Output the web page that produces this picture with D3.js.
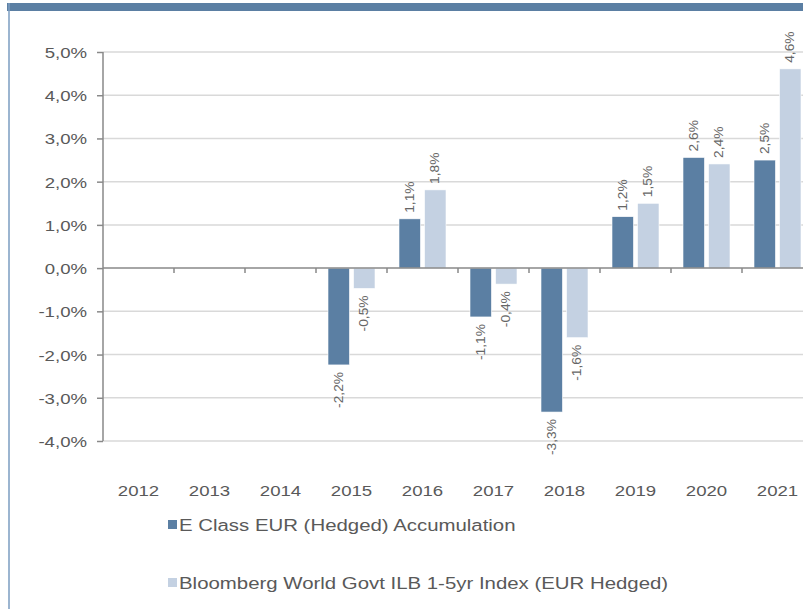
<!DOCTYPE html>
<html>
<head>
<meta charset="utf-8">
<script src="https://cdn.jsdelivr.net/npm/d3@7"></script>
<style>
  body { margin: 0; background: #fff; }
  svg { display: block; font-family: "Liberation Sans", Arial, sans-serif; }
</style>
</head>
<body>
<div id="chart"></div>
<script>
// chart data
const years = ["2012", "2013", "2014", "2015", "2016", "2017", "2018", "2019", "2020", "2021"];
const fundValues = [null, null, null, -2.24, 1.14, -1.13, -3.33, 1.19, 2.56, 2.50];
const indexValues = [null, null, null, -0.47, 1.81, -0.37, -1.61, 1.50, 2.41, 4.61];
const seriesNames = ["E Class EUR (Hedged) Accumulation", "Bloomberg World Govt ILB 1-5yr Index (EUR Hedged)"];
const yTicks = [-4, -3, -2, -1, 0, 1, 2, 3, 4, 5];

const colors = ["#5b7fa3", "#c4d1e2"];
const width = 803, height = 609;
const textGray = "#595959";
const stretch = 1.2; // the reference font renders wider than Liberation Sans

const svg = d3.select("#chart").append("svg")
  .attr("width", width)
  .attr("height", height);

// frame: top band + thin left edge
svg.append("rect").attr("x", 7).attr("y", 3).attr("width", width).attr("height", 8).attr("fill", "#5b7fa3");
svg.append("line").attr("x1", 9).attr("x2", 9).attr("y1", 3).attr("y2", height)
  .attr("stroke", "#7b9cc0").attr("stroke-width", 1.5);

const x = d3.scaleBand().domain(years).range([103, 813]);
const x1 = d3.scaleBand().domain([0, 1]).range([12, 59]).paddingInner(0.16);
const y = d3.scaleLinear().domain([-4, 5]).range([441, 52]);

const fmt = v => d3.format(".1f")(v).replace(".", ",").replace("−", "-") + "%";

// gridlines
svg.append("g").selectAll("line").data(yTicks.filter(d => d !== 0)).join("line")
  .attr("x1", 103).attr("x2", width)
  .attr("y1", d => y(d)).attr("y2", d => y(d))
  .attr("stroke", "#d9d9d9").attr("stroke-width", 1.5);

// bars
const rows = years.map((yr, i) => ({ year: yr, vals: [fundValues[i], indexValues[i]] }));
const groups = svg.append("g").selectAll("g").data(rows).join("g")
  .attr("transform", d => `translate(${x(d.year)},0)`);

groups.selectAll("rect")
  .data(d => d.vals.map((v, k) => ({ v, k })).filter(e => e.v !== null))
  .join("rect")
  .attr("x", e => x1(e.k))
  .attr("width", x1.bandwidth())
  .attr("y", e => y(Math.max(0, e.v)))
  .attr("height", e => Math.abs(y(e.v) - y(0)))
  .attr("fill", e => colors[e.k])
  .attr("stroke", "#fff").attr("stroke-width", 0.6);

// rotated value labels
groups.selectAll("text")
  .data(d => d.vals.map((v, k) => ({ v, k })).filter(e => e.v !== null))
  .join("text")
  .attr("transform", e => {
    const cx = x1(e.k) + x1.bandwidth() / 2;
    const cy = e.v >= 0 ? y(e.v) - 6 : y(e.v) + 7;
    return `translate(${cx},${cy}) rotate(-90) scale(1.15,1)`;
  })
  .attr("dy", "0.35em")
  .attr("text-anchor", e => e.v >= 0 ? "start" : "end")
  .attr("font-size", 12)
  .attr("fill", "#666")
  .text(e => fmt(e.v));

// y axis
const yAxis = svg.append("g").attr("transform", "translate(103,0)")
  .call(d3.axisLeft(y).tickValues(yTicks).tickSize(6).tickFormat(fmt));
yAxis.select(".domain").attr("stroke", "#898989").attr("stroke-width", 1.5)
  .attr("d", `M0,${y(5)}V${y(-4)}`);
yAxis.selectAll(".tick line").attr("stroke", "#898989").attr("stroke-width", 1.5);
yAxis.selectAll(".tick text")
  .attr("x", null).attr("dy", null)
  .attr("transform", `translate(-16,5.5) scale(${stretch},1)`)
  .attr("font-size", 15.5).attr("fill", textGray)
  .style("font-family", "'Liberation Sans', Arial, sans-serif");

// zero line with category ticks
svg.append("line").attr("x1", 103).attr("x2", width)
  .attr("y1", y(0)).attr("y2", y(0))
  .attr("stroke", "#898989").attr("stroke-width", 1.5);
svg.append("g").selectAll("line").data(years.slice(1)).join("line")
  .attr("x1", d => x(d)).attr("x2", d => x(d))
  .attr("y1", y(0)).attr("y2", y(0) + 5)
  .attr("stroke", "#898989").attr("stroke-width", 1.5);

// category labels
svg.append("g").selectAll("text").data(years).join("text")
  .attr("transform", d => `translate(${x(d) + x.bandwidth() / 2},496) scale(${stretch},1)`)
  .attr("text-anchor", "middle")
  .attr("font-size", 15.5).attr("fill", textGray)
  .text(d => d);

// legend
const legend = svg.append("g").selectAll("g").data(seriesNames).join("g")
  .attr("transform", (d, i) => `translate(168,${520 + i * 58})`);
legend.append("rect").attr("width", 9).attr("height", 9)
  .attr("fill", (d, i) => colors[i]);
legend.append("text")
  .attr("transform", `translate(11,10.5) scale(${stretch},1)`)
  .attr("font-size", 17).attr("fill", textGray)
  .text(d => d);
</script>
</body>
</html>
